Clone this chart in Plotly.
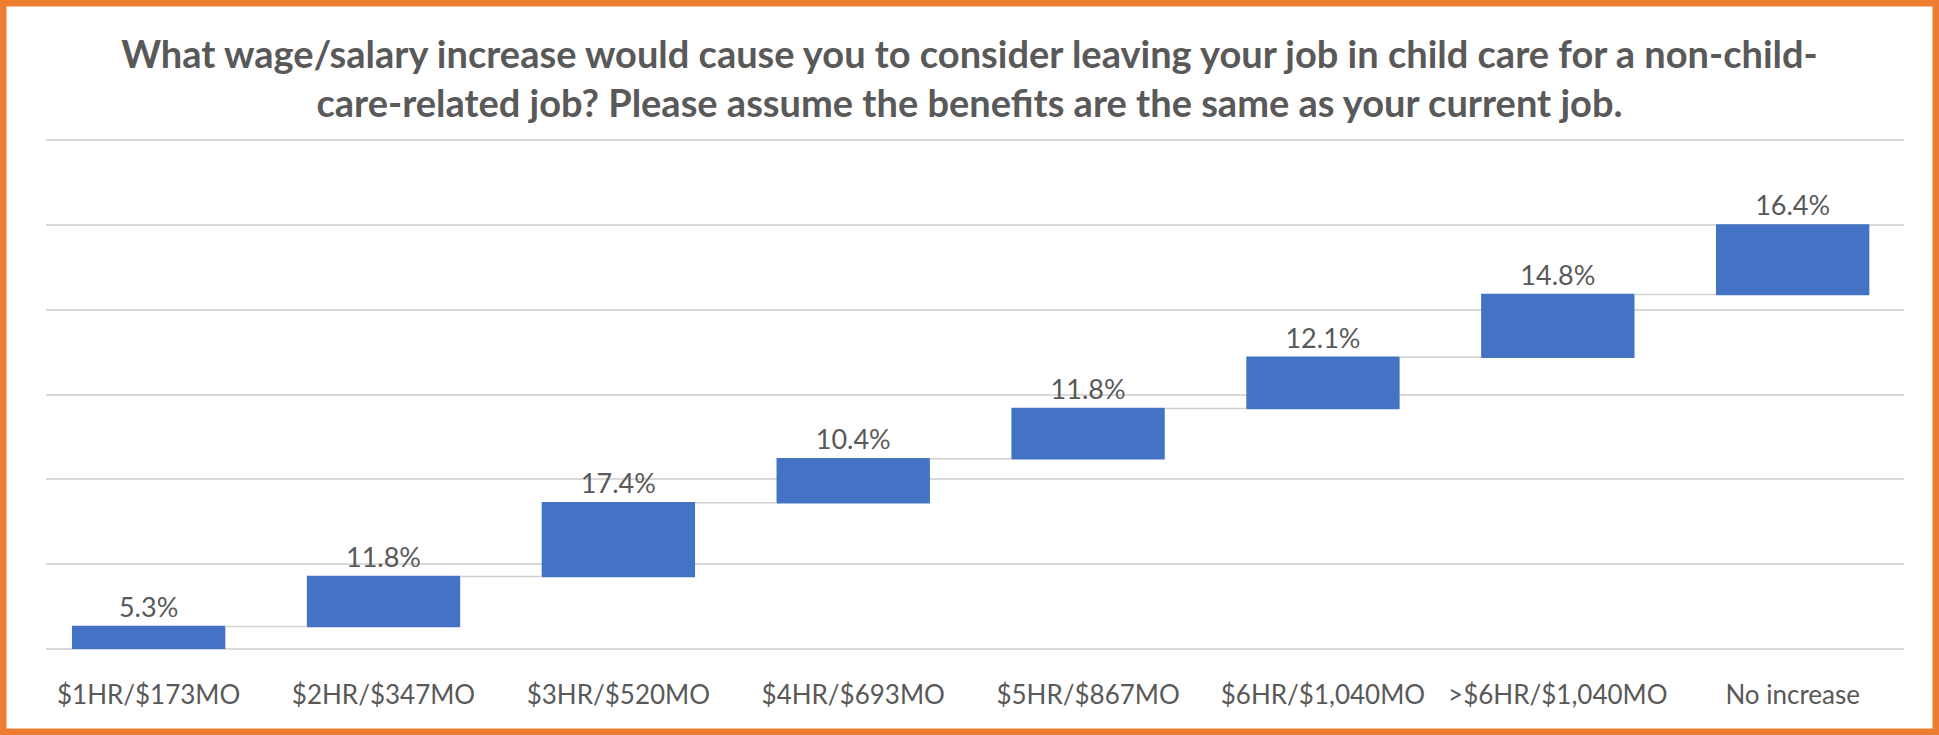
import plotly.graph_objects as go

categories = ["$1HR/$173MO", "$2HR/$347MO", "$3HR/$520MO", "$4HR/$693MO",
              "$5HR/$867MO", "$6HR/$1,040MO", ">$6HR/$1,040MO", "No increase"]
values = [5.3, 11.8, 17.4, 10.4, 11.8, 12.1, 14.8, 16.4]
labels = [f"{v:.1f}%" for v in values]

title = ("What wage/salary increase would cause you to consider leaving your job in child care for a non-child-<br>"
         "care-related job? Please assume the benefits are the same as your current job.")

FONT = "Lato"
GREY = "#595959"

fig = go.Figure(go.Waterfall(
    x=categories,
    y=values,
    measure=["relative"] * len(values),
    text=labels,
    textposition="outside",
    textfont=dict(size=27, color=GREY, family=FONT),
    increasing=dict(marker=dict(color="#4472C4")),
    connector=dict(line=dict(color="#d0d0d0", width=1.5)),
    width=0.653,
    cliponaxis=False,
    hoverinfo="x+text",
))

W, H = 1939, 735
ml, mr, mt, mb = 46, 35, 136, 86
pw, ph = W - ml - mr, H - mt - mb

fig.update_layout(
    width=W, height=H,
    paper_bgcolor="white", plot_bgcolor="white",
    margin=dict(l=ml, r=mr, t=mt, b=mb),
    title=dict(text=title, x=0.5, xanchor="center", y=1 - 68 / H, yanchor="middle",
               font=dict(size=38, color=GREY, family=FONT, weight="bold")),
    showlegend=False,
    xaxis=dict(tickfont=dict(size=26, color=GREY, family=FONT),
               range=[-0.437, 7.474], ticklabelstandoff=28,
               showgrid=False, showline=False, ticks=""),
    yaxis=dict(range=[0, 121], dtick=20, showticklabels=False, showgrid=True,
               gridcolor="#d9d9d9", gridwidth=2, zeroline=True,
               zerolinecolor="#d9d9d9", zerolinewidth=2),
)
# orange frame around the whole image
fig.add_shape(type="rect", xref="paper", yref="paper",
              x0=-(ml - 3) / pw, x1=1 + (mr - 3) / pw,
              y0=-(mb - 3) / ph, y1=1 + (mt - 3) / ph,
              line=dict(color="#ED7D31", width=7), fillcolor="rgba(0,0,0,0)")

fig.write_html("out.html", config=dict(displayModeBar=False),
               post_script="document.body.style.margin='0';document.body.style.overflow='hidden';")
